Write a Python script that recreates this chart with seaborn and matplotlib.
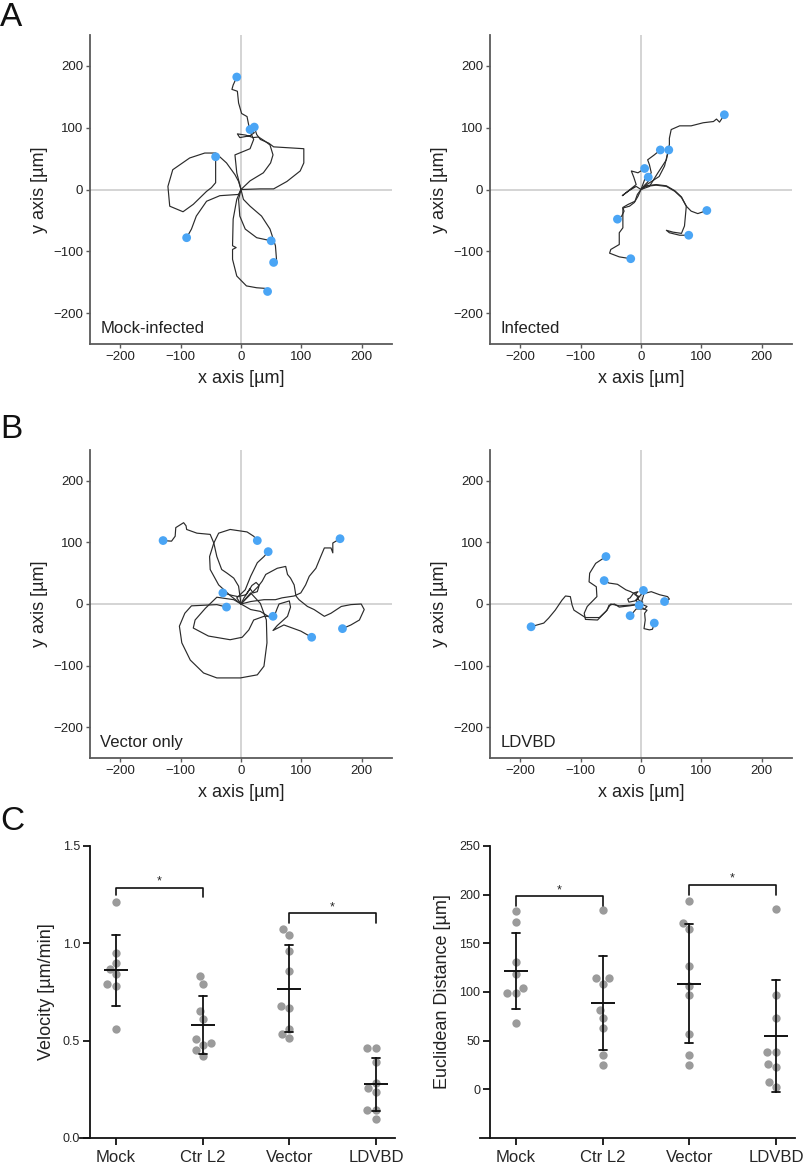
import numpy as np
import pandas as pd
import seaborn as sns
import matplotlib.pyplot as plt

sns.set_theme(style='white')
plt.rcParams['font.family'] = ['Liberation Sans', 'DejaVu Sans']

# Cell tracks (µm), every track starts at the origin, last point = end position
mock_tracks = [
    [(0, 0), (-7, 27), (-10, 56), (15, 66), (21, 81), (15, 94), (12, 108), (10, 118), (1, 123),
     (-4, 140), (-6, 159), (-15, 162), (-13, 169), (-7, 182)],
    [(0, 0), (15, 14), (37, 27), (49, 43), (53, 56), (48, 72), (40, 78), (29, 85), (20, 84), (8, 88),
     (-6, 90), (-2, 84), (15, 87), (22, 92), (15, 97)],
    [(0, 0), (32, 1), (54, 1), (76, 13), (98, 30), (104, 43), (104, 66), (54, 69), (46, 75), (32, 81),
     (26, 89), (22, 101)],
    [(0, 0), (-4, 13), (-10, 24), (-24, 43), (-42, 59), (-60, 59), (-85, 51), (-113, 32), (-121, 5),
     (-118, -27), (-96, -36), (-79, -24), (-57, -3), (-49, 3), (-42, 11), (-42, 32), (-42, 53)],
    [(0, 0), (-4, -8), (-35, -10), (-57, -19), (-74, -43), (-82, -64), (-90, -78)],
    [(0, 0), (-4, -16), (-2, -43), (7, -64), (26, -78), (50, -83)],
    [(0, 0), (4, -16), (15, -27), (34, -43), (48, -64), (57, -91), (59, -116), (54, -118)],
    [(0, 0), (-7, -16), (-13, -48), (-14, -91), (-8, -94), (-14, -97), (-14, -113), (-7, -140),
     (9, -156), (26, -159), (40, -160), (44, -165)],
]

infected_tracks = [
    [(0, 0), (14, 5), (28, 27), (42, 48), (47, 73), (47, 83), (50, 97), (64, 103), (83, 103),
     (95, 106), (103, 108), (120, 110), (125, 114), (130, 109), (138, 121)],
    [(0, 0), (6, 16), (17, 27), (14, 40), (11, 48), (22, 56), (32, 64)],
    [(0, 0), (8, 7), (30, 21), (39, 38), (43, 54), (46, 64)],
    [(0, 0), (-8, 5), (-20, -2), (-31, -10), (-22, -3), (-8, 8), (-12, 20), (-16, 30), (-5, 27), (6, 34)],
    [(0, 0), (5, 6), (12, 13), (8, 17), (12, 20)],
    [(0, 0), (8, 5), (25, 7), (42, 5), (56, -3), (67, -13), (75, -27), (83, -35), (94, -39),
     (100, -37), (109, -34)],
    [(0, 0), (8, 6), (25, 8), (42, 6), (56, -2), (67, -12), (75, -27), (72, -59), (67, -71),
     (53, -69), (42, -66), (47, -70), (64, -74), (79, -74)],
    [(0, 0), (-5, -11), (-11, -21), (-19, -27), (-30, -30), (-28, -35), (-32, -43), (-39, -48)],
    [(0, 0), (-6, -8), (-10, -19), (-21, -24), (-30, -29), (-30, -43), (-30, -62), (-36, -70),
     (-36, -89), (-50, -97), (-52, -103), (-36, -109), (-17, -112)],
]

vector_tracks = [
    [(0, 0), (-4, 29), (-12, 42), (-23, 50), (-32, 56), (-40, 77), (-45, 99), (-51, 113), (-73, 115),
     (-90, 121), (-91, 127), (-95, 132), (-108, 124), (-109, 110), (-115, 102), (-129, 103)],
    [(0, 0), (-17, 13), (-37, 31), (-51, 56), (-52, 77), (-45, 99), (-37, 115), (-18, 121),
     (10, 117), (21, 110), (27, 103)],
    [(0, 0), (-7, 10), (7, 23), (16, 45), (27, 67), (38, 77), (45, 85)],
    [(0, 0), (16, 4), (38, 7), (57, 7), (68, 10), (88, 13), (99, 18), (107, 31), (113, 45),
     (124, 58), (132, 77), (138, 91), (149, 91), (152, 83), (152, 99), (164, 106)],
    [(0, 0), (5, 10), (12, 20), (18, 30), (25, 35), (30, 30), (27, 20), (20, 18), (15, 25), (8, 15),
     (-5, 12), (-15, 14), (-30, 18)],
    [(0, 0), (16, 18), (32, 1), (42, -26), (43, -63), (38, -101), (27, -115), (-1, -120),
     (-40, -120), (-62, -112), (-84, -91), (-98, -63), (-102, -36), (-93, -15), (-82, -3),
     (-40, -1), (-24, -5)],
    [(0, 0), (-12, 7), (-40, 11), (-59, -7), (-76, -26), (-79, -39), (-54, -52), (-18, -58),
     (2, -54), (13, -42), (21, -26), (38, -20), (53, -20)],
    [(0, 0), (16, -9), (32, -12), (53, -25), (60, -7), (63, 0), (80, 5), (82, -5), (77, -20),
     (60, -35), (53, -43), (71, -34), (99, -44), (117, -54)],
    [(0, 0), (15, 15), (28, 28), (35, 37), (41, 48), (60, 58), (74, 61), (77, 48), (82, 42),
     (88, 31), (91, 13), (96, 7), (110, -4), (121, -9), (138, -20), (149, -15), (166, -4),
     (182, -1), (199, 0), (204, -9), (196, -26), (182, -34), (168, -40)],
]

ldvbd_tracks = [
    [(0, 0), (-19, -2), (-36, -3), (-50, 0), (-58, -12), (-72, -26), (-92, -25), (-94, -15),
     (-89, -4), (-73, 12), (-74, 28), (-86, 36), (-85, 50), (-75, 66), (-58, 77)],
    [(0, 0), (-8, 15), (-17, 20), (-25, 23), (-39, 32), (-53, 34), (-61, 38)],
    [(0, 0), (-19, -3), (-36, -5), (-44, 0), (-53, -2), (-56, -10), (-69, -22), (-92, -22),
     (-111, -10), (-114, -2), (-117, 12), (-125, 13), (-131, 6), (-142, -10), (-153, -23),
     (-161, -31), (-172, -34), (-182, -37)],
    [(0, 0), (-8, 5), (-3, 12), (-10, 15), (-5, 20), (-12, 18), (-18, 10), (-22, 8), (-20, 3),
     (-10, 5), (0, 15), (4, 22)],
    [(0, 0), (5, 17), (17, 20), (31, 15), (44, 12), (47, 8), (39, 4)],
    [(0, 0), (3, 3), (-2, 5), (-4, 1), (-3, -2)],
    [(0, 0), (10, -4), (6, -8), (-8, -8), (-14, -15), (-18, -19)],
    [(0, 0), (4, -8), (10, -10), (6, -15), (7, -26), (5, -40), (14, -42), (19, -41), (22, -31)],
]

track_labels = ['Mock-infected', 'Infected', 'Vector only', 'LDVBD']

# Panel C data
groups = ['Mock', 'Ctr L2', 'Vector', 'LDVBD']
vel_mock = [1.21, 0.95, 0.90, 0.87, 0.84, 0.79, 0.78, 0.56]
vel_ctr = [0.83, 0.79, 0.65, 0.61, 0.51, 0.49, 0.48, 0.45, 0.42]
vel_vector = [1.075, 1.045, 0.96, 0.86, 0.68, 0.67, 0.56, 0.535, 0.515]
vel_ldvbd = [0.46, 0.46, 0.39, 0.285, 0.255, 0.235, 0.145, 0.145, 0.10]
dist_mock = [183, 172, 131, 119, 104, 99, 99, 68]
dist_ctr = [184, 114, 114, 108, 81, 73, 63, 35, 25]
dist_vector = [194, 171, 165, 127, 106, 97, 57, 35, 25]
dist_ldvbd = [185, 97, 73, 38, 38, 26, 23, 7.5, 2.5]
# brackets: (group a, group b, height, left leg end, right leg end)
vel_brackets = [('Mock', 'Ctr L2', 1.285, 1.248, 1.236), ('Vector', 'LDVBD', 1.154, 1.106, 1.106)]
dist_brackets = [('Mock', 'Ctr L2', 198.5, 188.5, 188.5), ('Vector', 'LDVBD', 210, 199.5, 199.5)]

TRACK_COLOR = '#2b2b2b'
DOT_COLOR = '#4aa5f5'
SPINE = '#5a5a5a'


def track_panel(ax, tracks, label):
    rows = []
    for i, tr in enumerate(tracks):
        for j, (x, y) in enumerate(tr):
            rows.append((i, j, x, y))
    df = pd.DataFrame(rows, columns=['track', 'step', 'x', 'y'])
    ax.axhline(0, color='#cdcdcd', lw=1.2, zorder=0)
    ax.axvline(0, color='#cdcdcd', lw=1.2, zorder=0)
    sns.lineplot(data=df, x='x', y='y', units='track', estimator=None, sort=False,
                 color=TRACK_COLOR, lw=0.85, ax=ax)
    ends = df.groupby('track').tail(1)
    sns.scatterplot(data=ends, x='x', y='y', color=DOT_COLOR, s=40, edgecolor='none',
                    ax=ax, zorder=4)
    ax.set_xlim(-250, 250)
    ax.set_ylim(-250, 250)
    ticks = [-200, -100, 0, 100, 200]
    ax.set_xticks(ticks)
    ax.set_yticks(ticks)
    ax.tick_params(labelsize=9.5, length=3, width=1, color=SPINE, labelcolor='#222222', pad=2,
                   bottom=True, left=True)
    for s in ['top', 'right']:
        ax.spines[s].set_visible(False)
    for s in ['left', 'bottom']:
        ax.spines[s].set_color(SPINE)
        ax.spines[s].set_linewidth(1.3)
    ax.set_xlabel('x axis [µm]', fontsize=13, color='#222222', labelpad=5)
    ax.set_ylabel('y axis [µm]', fontsize=13, color='#222222', labelpad=4)
    ax.text(-233, -225, label, fontsize=12, color='#222222', va='center')


def dot_panel(ax, values, ylabel, ylim, yticks, yfmt, brackets):
    df = pd.DataFrame({'group': np.repeat(groups, [len(v) for v in values]),
                       'value': np.concatenate(values)})
    sns.swarmplot(data=df, x='group', y='value', order=groups, color='#9b9b9b', size=6,
                  ax=ax, zorder=2)
    sns.pointplot(data=df, x='group', y='value', order=groups, errorbar='sd', capsize=0.09,
                  color='#111111', linestyle='none', marker='_', markersize=17,
                  markeredgewidth=1.4, err_kws={'linewidth': 1.3}, ax=ax, zorder=3)
    pos = {g: i for i, g in enumerate(groups)}
    for a, b, h, la, lb in brackets:
        ax.plot([pos[a], pos[a], pos[b], pos[b]], [la, h, h, lb], color='#111111', lw=1.2)
        ax.text((pos[a] + pos[b]) / 2, h, '*', ha='center', va='bottom', fontsize=9)
    ax.set_xlim(-0.415, 3.22)
    ax.set_ylim(*ylim)
    ax.set_yticks(yticks)
    ax.set_yticklabels([yfmt.format(t) for t in yticks])
    ax.set_xlabel('')
    ax.set_ylabel(ylabel, fontsize=13, color='#222222', labelpad=6)
    ax.spines['left'].set_position(('data', -0.3))
    for s in ['top', 'right']:
        ax.spines[s].set_visible(False)
    for s in ['left', 'bottom']:
        ax.spines[s].set_color('#111111')
        ax.spines[s].set_linewidth(1.3)
    ax.tick_params(axis='y', labelsize=9, length=5, width=1.3, color='#111111', pad=2, left=True)
    ax.tick_params(axis='x', labelsize=12, length=5, width=1.3, color='#111111', pad=4, bottom=True)


fig = plt.figure(figsize=(8.05, 11.7), dpi=100)
W, H = 805, 1170


def px_axes(left, top, right, bottom):
    return fig.add_axes([left / W, 1 - bottom / H, (right - left) / W, (bottom - top) / H])


track_axes = [px_axes(90, 35, 392, 344), px_axes(490, 35, 792, 344),
              px_axes(90, 450, 392, 758), px_axes(490, 450, 792, 758)]
for ax, tracks, label in zip(track_axes, [mock_tracks, infected_tracks, vector_tracks, ldvbd_tracks],
                             track_labels):
    track_panel(ax, tracks, label)

ax_v = px_axes(80, 846, 395, 1138)
dot_panel(ax_v, [vel_mock, vel_ctr, vel_vector, vel_ldvbd], 'Velocity [µm/min]', (0, 1.5),
          [0, 0.5, 1.0, 1.5], '{:.1f}', vel_brackets)
ax_d = px_axes(480, 846, 795, 1138)
dot_panel(ax_d, [dist_mock, dist_ctr, dist_vector, dist_ldvbd], 'Euclidean Distance [µm]',
          (-50, 250), [0, 50, 100, 150, 200, 250], '{:.0f}', dist_brackets)

for letter, y in [('A', 2), ('B', 414), ('C', 806)]:
    fig.text(0.0, 1 - y / H, letter, fontsize=24, va='top', ha='left', color='#111111')

fig.savefig('out.png', dpi=100)
